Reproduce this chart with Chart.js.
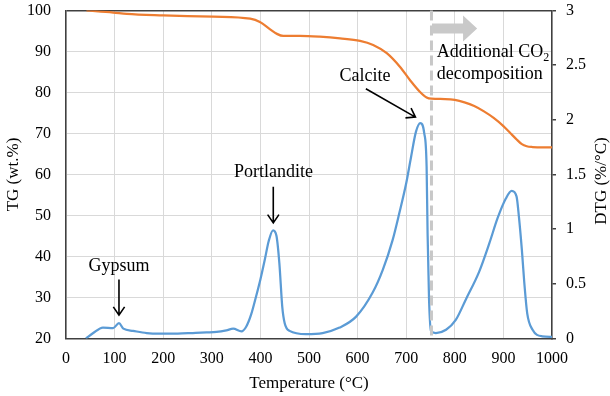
<!DOCTYPE html>
<html>
<head>
<meta charset="utf-8">
<script src="https://cdn.jsdelivr.net/npm/chart.js@4"></script>
<style>
    html, body { margin: 0; padding: 0; background: #fff; }
    .container { width: 610px; height: 396px; }
</style>
</head>
<body>
<div class="container"><canvas id="chart" width="610" height="396"></canvas></div>
<script>
// TG curve (wt.%) vs temperature
var tgTemp = [42, 97, 125, 200, 303, 379, 399, 420, 434, 447, 481, 522, 564, 605, 632, 660, 687, 708, 728, 742, 752, 780, 800, 820, 840, 860, 880, 900, 915, 926, 938, 948, 960, 980, 1000];
var tgValues = [100, 99.5, 99.15, 98.8, 98.5, 98.0, 97.2, 95.4, 94.3, 93.8, 93.8, 93.6, 93.2, 92.6, 91.6, 89.6, 86.3, 83.0, 80.2, 78.8, 78.5, 78.4, 78.2, 77.6, 76.7, 75.4, 73.8, 71.8, 70.0, 68.7, 67.4, 66.9, 66.7, 66.6, 66.6];

// DTG curve (%/°C) vs temperature
var dtgTemp = [41, 56, 76, 97, 109, 118, 138, 166, 193, 230, 261, 289, 310, 330, 344, 361, 371, 381, 392, 400, 409, 417, 426, 433, 439, 445, 450, 460, 494, 528, 563, 597, 631, 652, 672, 686, 700, 710, 720, 729, 737, 742, 744, 747, 751, 761, 782, 802, 823, 850, 871, 888, 905, 917, 927, 932, 938, 943, 949, 960, 980, 1000];
var dtgValues = [0.0, 0.05, 0.10, 0.095, 0.14, 0.09, 0.07, 0.05, 0.045, 0.045, 0.05, 0.055, 0.06, 0.075, 0.09, 0.065, 0.11, 0.22, 0.40, 0.54, 0.72, 0.89, 0.99, 0.94, 0.69, 0.29, 0.14, 0.07, 0.04, 0.05, 0.10, 0.20, 0.42, 0.63, 0.90, 1.15, 1.42, 1.66, 1.89, 1.97, 1.88, 1.57, 0.96, 0.36, 0.07, 0.05, 0.08, 0.17, 0.36, 0.61, 0.87, 1.10, 1.28, 1.35, 1.30, 1.11, 0.81, 0.51, 0.23, 0.08, 0.02, 0.015];

var tempTicks = [0, 100, 200, 300, 400, 500, 600, 700, 800, 900, 1000];
var tgTicks = [20, 30, 40, 50, 60, 70, 80, 90, 100];
var dtgTicks = [0, 0.5, 1, 1.5, 2, 2.5, 3];

var axisColor = '#404040';
var gridColor = '#d9d9d9';
var serif = "'Liberation Serif', 'Times New Roman', serif";

Chart.defaults.font.family = serif;
Chart.defaults.font.size = 16;
Chart.defaults.color = '#000';

function toPoints(xs, ys) {
    return xs.map((x, i) => ({ x: x, y: ys[i] }));
}

// fixed axis boxes so the plot area sits where the original one is
function fitBox(size, vertical) {
    return function (s) {
        if (vertical) s.width = size; else s.height = size;
        s.paddingTop = 0;
        s.paddingBottom = 0;
        s.paddingLeft = 0;
        s.paddingRight = 0;
    };
}

// arrows and labels in data units (x: temperature, y: TG axis)
var notes = [
    { text: 'Gypsum', x: 109, y: 37.7 },
    { text: 'Portlandite', x: 427, y: 60.5 },
    { text: 'Calcite', x: 615, y: 84.0 }
];
var arrows = [
    { x1: 109, y1: 34.4, x2: 109, y2: 25.7 },
    { x1: 426.5, y1: 57.0, x2: 426.5, y2: 48.2 },
    { x1: 617, y1: 80.9, x2: 719, y2: 74.0 }
];

var annotate = {
    id: 'annotate',
    afterDatasetsDraw(chart) {
        var ctx = chart.ctx;
        var xs = chart.scales.x, ys = chart.scales.yTG, area = chart.chartArea;
        ctx.save();

        // dashed marker line
        var dx = xs.getPixelForValue(752);
        ctx.strokeStyle = '#c8c8c8';
        ctx.lineWidth = 3;
        ctx.setLineDash([10, 5]);
        ctx.beginPath();
        ctx.moveTo(dx, area.top);
        ctx.lineTo(dx, area.bottom);
        ctx.stroke();
        ctx.setLineDash([]);

        // grey block arrow
        var cy = ys.getPixelForValue(95.6);
        var x0 = xs.getPixelForValue(753), xh = xs.getPixelForValue(817), xt = xs.getPixelForValue(846);
        ctx.fillStyle = '#c9c9c9';
        ctx.beginPath();
        ctx.moveTo(x0, cy - 5);
        ctx.lineTo(xh, cy - 5);
        ctx.lineTo(xh, cy - 13);
        ctx.lineTo(xt, cy);
        ctx.lineTo(xh, cy + 13);
        ctx.lineTo(xh, cy + 5);
        ctx.lineTo(x0, cy + 5);
        ctx.closePath();
        ctx.fill();

        // black arrows
        ctx.strokeStyle = '#000';
        ctx.lineWidth = 1.6;
        arrows.forEach(a => {
            var px1 = xs.getPixelForValue(a.x1), py1 = ys.getPixelForValue(a.y1);
            var px2 = xs.getPixelForValue(a.x2), py2 = ys.getPixelForValue(a.y2);
            var ang = Math.atan2(py2 - py1, px2 - px1);
            ctx.beginPath();
            ctx.moveTo(px1, py1);
            ctx.lineTo(px2, py2);
            ctx.moveTo(px2 - 10 * Math.cos(ang - 0.6), py2 - 10 * Math.sin(ang - 0.6));
            ctx.lineTo(px2, py2);
            ctx.lineTo(px2 - 10 * Math.cos(ang + 0.6), py2 - 10 * Math.sin(ang + 0.6));
            ctx.stroke();
        });

        // labels
        ctx.fillStyle = '#000';
        ctx.font = '18px ' + serif;
        ctx.textAlign = 'center';
        ctx.textBaseline = 'middle';
        notes.forEach(n => {
            ctx.fillText(n.text, xs.getPixelForValue(n.x), ys.getPixelForValue(n.y));
        });

        ctx.textAlign = 'left';
        ctx.textBaseline = 'alphabetic';
        var lx = xs.getPixelForValue(763);
        var b1 = ys.getPixelForValue(88.7), b2 = ys.getPixelForValue(83.3);
        var first = 'Additional CO';
        ctx.fillText(first, lx, b1);
        var w = ctx.measureText(first).width;
        ctx.font = '12px ' + serif;
        ctx.fillText('2', lx + w, b1 + 4);
        ctx.font = '18px ' + serif;
        ctx.fillText('decomposition', lx, b2);
        ctx.restore();
    },
    afterDraw(chart) {
        // right axis title, reading bottom to top
        var ctx = chart.ctx;
        ctx.save();
        ctx.translate(602, 181);
        ctx.rotate(-Math.PI / 2);
        ctx.font = '17px ' + serif;
        ctx.fillStyle = '#000';
        ctx.textAlign = 'center';
        ctx.textBaseline = 'middle';
        ctx.fillText('DTG (%/°C)', 0, 0);
        ctx.restore();
    }
};

var ctx = document.getElementById('chart').getContext('2d');
new Chart(ctx, {
    type: 'line',
    data: {
        datasets: [
            {
                label: 'TG',
                data: toPoints(tgTemp, tgValues),
                yAxisID: 'yTG',
                borderColor: '#ED7D31',
                borderWidth: 2.25,
                pointRadius: 0,
                fill: false,
                cubicInterpolationMode: 'monotone'
            },
            {
                label: 'DTG',
                data: toPoints(dtgTemp, dtgValues),
                yAxisID: 'yDTG',
                borderColor: '#5B9BD5',
                borderWidth: 2.25,
                pointRadius: 0,
                fill: false,
                cubicInterpolationMode: 'monotone'
            }
        ]
    },
    options: {
        responsive: false,
        animation: false,
        devicePixelRatio: 1,
        layout: { padding: { top: 10.5, left: 0, right: 0, bottom: 0 } },
        plugins: { legend: { display: false }, tooltip: { enabled: false } },
        scales: {
            x: {
                type: 'linear',
                min: 0,
                max: 1000,
                afterFit: fitBox(57.5, false),
                afterBuildTicks: s => { s.ticks = tempTicks.map(v => ({ value: v })); },
                ticks: { padding: 11, maxRotation: 0, font: { size: 16 }, callback: v => String(v) },
                grid: { color: gridColor, lineWidth: 1, drawTicks: false },
                border: { color: axisColor, width: 1.5 },
                title: { display: true, text: 'Temperature (°C)', font: { size: 17 }, padding: { bottom: 2.3, top: 0 } }
            },
            yTG: {
                position: 'left',
                min: 20,
                max: 100,
                afterFit: fitBox(66, true),
                afterBuildTicks: s => { s.ticks = tgTicks.map(v => ({ value: v })); },
                ticks: { padding: 15, font: { size: 16 }, callback: v => String(v) },
                grid: {
                    color: c => (c.tick && c.tick.value === 100) ? axisColor : gridColor,
                    lineWidth: c => (c.tick && c.tick.value === 100) ? 1.5 : 1,
                    drawTicks: false
                },
                border: { color: axisColor, width: 1.5 },
                title: { display: true, text: 'TG (wt.%)', font: { size: 17 }, padding: { top: 3.5, bottom: 0 } }
            },
            yDTG: {
                position: 'right',
                min: 0,
                max: 3,
                afterFit: fitBox(58, true),
                afterBuildTicks: s => { s.ticks = dtgTicks.map(v => ({ value: v })); },
                ticks: { padding: 10, font: { size: 16 }, callback: v => String(v) },
                grid: { drawOnChartArea: false, drawTicks: true, tickLength: 4, color: axisColor, lineWidth: 1.5 },
                border: { color: axisColor, width: 1.5 }
            }
        }
    },
    plugins: [annotate]
});
</script>
</body>
</html>
